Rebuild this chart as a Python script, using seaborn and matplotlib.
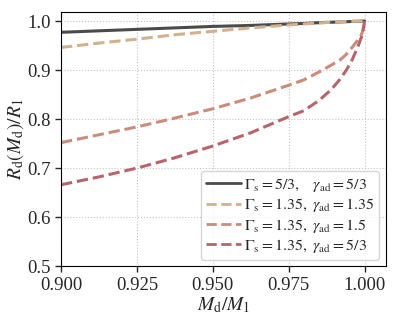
import numpy as np
import pandas as pd
import matplotlib
matplotlib.use("Agg")
import matplotlib.pyplot as plt
import seaborn as sns

# values
m_ratio = [0.900, 0.9125, 0.925, 0.9375, 0.950, 0.9625, 0.975, 0.980, 0.985,
           0.989, 0.992, 0.994, 0.996, 0.998, 0.999, 0.9995, 1.000]

r_53_53 = [0.977, 0.980, 0.983, 0.986, 0.989, 0.991, 0.994, 0.995, 0.9966,
           0.9975, 0.9982, 0.9986, 0.9991, 0.9995, 0.9998, 0.9999, 1.000]
r_135_135 = [0.946, 0.955, 0.963, 0.972, 0.979, 0.986, 0.992, 0.994, 0.996,
             0.9975, 0.9985, 0.999, 0.9994, 0.9997, 0.9999, 1.000, 1.000]
r_135_15 = [0.752, 0.768, 0.784, 0.802, 0.821, 0.843, 0.869, 0.880, 0.896,
            0.910, 0.921, 0.932, 0.947, 0.963, 0.973, 0.982, 1.000]
r_135_53 = [0.666, 0.682, 0.700, 0.721, 0.745, 0.772, 0.805, 0.817, 0.838,
            0.860, 0.882, 0.900, 0.922, 0.951, 0.968, 0.981, 1.000]

labels = [r"$\Gamma_{\rm s}=5/3,\quad\gamma_{\rm ad}=5/3$",
          r"$\Gamma_{\rm s}=1.35,\ \gamma_{\rm ad}=1.35$",
          r"$\Gamma_{\rm s}=1.35,\ \gamma_{\rm ad}=1.5$",
          r"$\Gamma_{\rm s}=1.35,\ \gamma_{\rm ad}=5/3$"]
colors = ["#4a4a4a", "#d4b08c", "#c98d7b", "#b5656b"]
styles = ["-", "--", "--", "--"]

sns.set_style("ticks")
plt.rcParams["font.family"] = ["Liberation Serif", "DejaVu Serif"]
plt.rcParams["mathtext.fontset"] = "stix"

fig, ax = plt.subplots(figsize=(3.99, 3.21), dpi=100)

for ys, lab, col, ls in zip([r_53_53, r_135_135, r_135_15, r_135_53], labels, colors, styles):
    df = pd.DataFrame({"x": m_ratio, "y": ys})
    sns.lineplot(data=df, x="x", y="y", ax=ax, color=col, linestyle=ls, lw=2.2, label=lab)

ax.set_xlim(0.9, 1.007)
ax.set_ylim(0.5, 1.018)
ax.set_xticks([0.900, 0.925, 0.950, 0.975, 1.000])
ax.set_xticklabels(["0.900", "0.925", "0.950", "0.975", "1.000"])
ax.set_yticks([0.5, 0.6, 0.7, 0.8, 0.9, 1.0])
ax.tick_params(labelsize=13.5, direction="out", length=4, width=1)
ax.grid(True, linestyle=":", color="#c4c4c4", lw=0.8)
for s in ax.spines.values():
    s.set_visible(True)
    s.set_color("black")
ax.set_xlabel(r"$M_{\rm d}/M_1$", fontsize=14, labelpad=1)
ax.set_ylabel(r"$R_{\rm d}(M_{\rm d})/R_1$", fontsize=14, labelpad=1)
leg = ax.legend(loc="lower right", fontsize=11.5, handlelength=2.2, handletextpad=0.2,
                labelspacing=0.15, borderpad=0.3, borderaxespad=0.4, frameon=True, fancybox=True)
for h in leg.get_lines():
    h.set_linewidth(2.0)

fig.subplots_adjust(left=0.153, right=0.967, top=0.962, bottom=0.171)
fig.savefig("out.png", dpi=100)
